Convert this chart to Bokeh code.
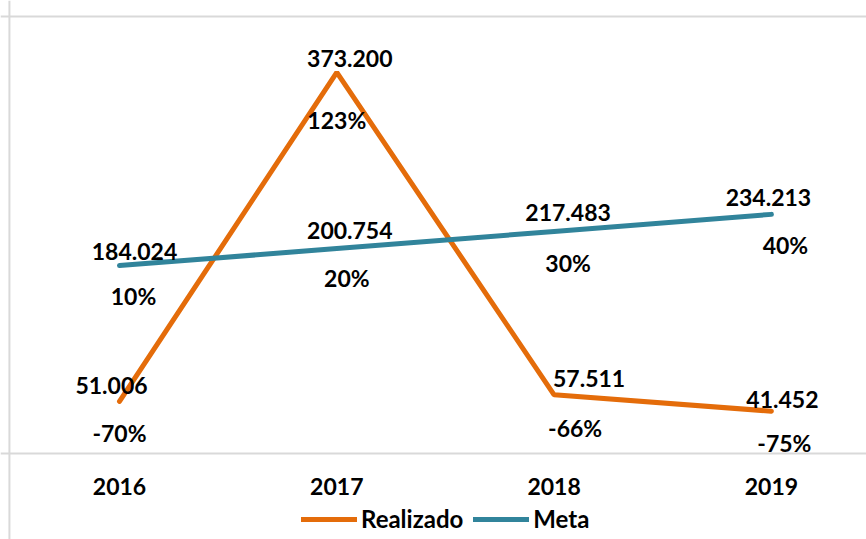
from bokeh.plotting import figure
from bokeh.models import Range1d, Span, FixedTicker, ColumnDataSource, Legend, LegendItem
from bokeh.core.properties import value
from bokeh.embed import file_html
from bokeh.resources import INLINE

# ---- data ----
years = ["2016", "2017", "2018", "2019"]
realizado = [51006, 373200, 57511, 41452]
meta = [184024, 200754, 217483, 234213]
realizado_pct = ["-70%", "123%", "-66%", "-75%"]
meta_pct = ["10%", "20%", "30%", "40%"]


def fmt(v):
    return f"{v:,}".replace(",", ".")


xs = list(range(len(years)))

ORANGE = "#E46C0A"
BLUE = "#31849B"
GRID = "#d9d9d9"
FONT = "Lato"
FS = "23px"

p = figure(width=866, height=539, output_backend="svg", toolbar_location=None,
           x_range=Range1d(-0.5476, 3.4376), y_range=Range1d(-84231, 443683),
           y_axis_location=None, min_border=0)
p.grid.visible = False
p.outline_line_color = None
p.background_fill_color = "white"
p.border_fill_color = "white"

# x axis at zero
ax = p.xaxis[0]
ax.fixed_location = 0
ax.ticker = FixedTicker(ticks=xs)
ax.major_label_overrides = {i: y for i, y in enumerate(years)}
ax.axis_line_color = GRID
ax.axis_line_width = 2
ax.major_tick_line_color = None
ax.minor_tick_line_color = None
ax.major_tick_in = 0
ax.major_tick_out = 0
ax.major_label_standoff = 24
ax.major_label_text_font = FONT
ax.major_label_text_font_style = "bold"
ax.major_label_text_font_size = FS
ax.major_label_text_color = "black"

# chart-area border (top & left)
p.add_layout(Span(location=428000, dimension="width", line_color=GRID, line_width=2))
p.add_layout(Span(location=-0.5065, dimension="height", line_color=GRID, line_width=2))

r_real = p.line(xs, realizado, line_color=ORANGE, line_width=5, line_cap="round")
r_meta = p.line(xs, meta, line_color=BLUE, line_width=5, line_cap="round")

# data labels (offsets are pixel placements of each label)
src_rv = ColumnDataSource(dict(x=xs, y=realizado, t=[fmt(v) for v in realizado],
                               dx=[-8, 13, 35, 11], dy=[-16, -14, -16, -12]))
src_rp = ColumnDataSource(dict(x=xs, y=realizado, t=realizado_pct,
                               dx=[0, 0, 21, 13], dy=[32, 48, 33, 32]))
src_mv = ColumnDataSource(dict(x=xs, y=meta, t=[fmt(v) for v in meta],
                               dx=[15, 13, 14, -3], dy=[-14, -18, -19, -17]))
src_mp = ColumnDataSource(dict(x=xs, y=meta, t=meta_pct,
                               dx=[14, 10, 14, 14], dy=[30, 29, 32, 31]))
for s in (src_rv, src_rp, src_mv, src_mp):
    p.text(x="x", y="y", text="t", x_offset="dx", y_offset="dy", source=s,
           text_align="center", text_baseline="middle", text_color="black",
           text_font=value(FONT), text_font_style="bold", text_font_size=FS)

legend = Legend(items=[LegendItem(label="Realizado", renderers=[r_real]),
                       LegendItem(label="Meta", renderers=[r_meta])],
                orientation="horizontal", location=(301, 6),
                border_line_color=None, background_fill_alpha=0,
                padding=0, margin=0, spacing=10, label_standoff=4,
                glyph_width=56, glyph_height=20,
                label_text_font=FONT, label_text_font_style="bold",
                label_text_font_size="24px", label_text_color="black")
p.add_layout(legend)

open("out.html", "w").write(file_html(p, INLINE))
